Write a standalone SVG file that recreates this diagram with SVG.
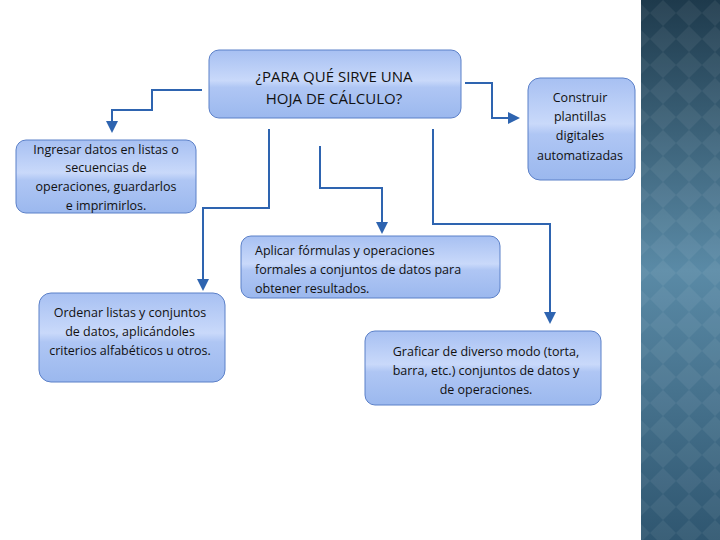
<svg xmlns="http://www.w3.org/2000/svg" width="720" height="540" viewBox="0 0 720 540">
<defs>
<linearGradient id="bg" x1="0" y1="0" x2="0" y2="1"><stop offset="0" stop-color="#a7c0f2"/><stop offset="0.45" stop-color="#c9d9fa"/><stop offset="0.55" stop-color="#afc6f4"/><stop offset="1" stop-color="#9bb8ee"/></linearGradient>
<linearGradient id="side" x1="0" y1="0" x2="0" y2="1"><stop offset="0" stop-color="#1e3a4c"/><stop offset="0.5" stop-color="#5a8aa6"/><stop offset="1" stop-color="#2f5670"/></linearGradient>
<pattern id="dia" width="26" height="26" patternUnits="userSpaceOnUse"><path d="M13 0L26 13L13 26L0 13Z" fill="#ffffff" fill-opacity="0.06"/></pattern>
<marker id="ar" markerWidth="6" markerHeight="6" refX="3" refY="3" orient="auto"><path d="M0 0L6 3L0 6Z" fill="#2e64b0"/></marker>
<style>.n{fill:url(#bg);stroke:#5b80c8;stroke-width:1}.t{font-family:"Open Sans","Liberation Sans",sans-serif;font-size:12.5px;fill:#111;text-anchor:middle}.c{fill:none;stroke:#2e64b0;stroke-width:2;marker-end:url(#ar)}</style>
</defs>
<rect width="720" height="540" fill="#fff"/>
<rect x="641" width="79" height="540" fill="url(#side)"/>
<rect x="641" width="79" height="540" fill="url(#dia)"/>
<g id="connectors">
<path class="c" d="M202 90H152V110H112V127"/>
<path class="c" d="M465 83H492V118H514"/>
<path class="c" d="M269 129V208H203V285"/>
<path class="c" d="M320 146V188H382V228"/>
<path class="c" d="M433 129V224H550V318"/>
</g>
<g id="main"><rect class="n" x="209" y="50" width="252" height="68" rx="10"/><text class="t" style="font-size:15px"><tspan x="334" y="82">¿PARA QUÉ SIRVE UNA</tspan><tspan x="334" y="104">HOJA DE CÁLCULO?</tspan></text></g>
<g id="construir"><rect class="n" x="528" y="78" width="107" height="102" rx="12"/><text class="t"><tspan x="580" y="102">Construir</tspan><tspan x="580" y="121">plantillas</tspan><tspan x="580" y="140">digitales</tspan><tspan x="580" y="160">automatizadas</tspan></text></g>
<g id="ingresar"><rect class="n" x="16" y="140" width="180" height="73" rx="10"/><text class="t"><tspan x="106" y="154">Ingresar datos en listas o</tspan><tspan x="106" y="172">secuencias de</tspan><tspan x="106" y="191">operaciones, guardarlos</tspan><tspan x="106" y="210">e imprimirlos.</tspan></text></g>
<g id="aplicar"><rect class="n" x="241" y="236" width="259" height="62" rx="10"/><text class="t" style="text-anchor:start"><tspan x="255" y="255">Aplicar fórmulas y operaciones</tspan><tspan x="255" y="274">formales a conjuntos de datos para</tspan><tspan x="255" y="293">obtener resultados.</tspan></text></g>
<g id="ordenar"><rect class="n" x="39" y="293" width="186" height="89" rx="12"/><text class="t"><tspan x="130" y="317">Ordenar listas y conjuntos</tspan><tspan x="130" y="336">de datos, aplicándoles</tspan><tspan x="130" y="355">criterios alfabéticos u otros.</tspan></text></g>
<g id="graficar"><rect class="n" x="365" y="331" width="236" height="74" rx="10"/><text class="t"><tspan x="486" y="356">Graficar de diverso modo (torta,</tspan><tspan x="486" y="375">barra, etc.) conjuntos de datos y</tspan><tspan x="486" y="394">de operaciones.</tspan></text></g>
</svg>
